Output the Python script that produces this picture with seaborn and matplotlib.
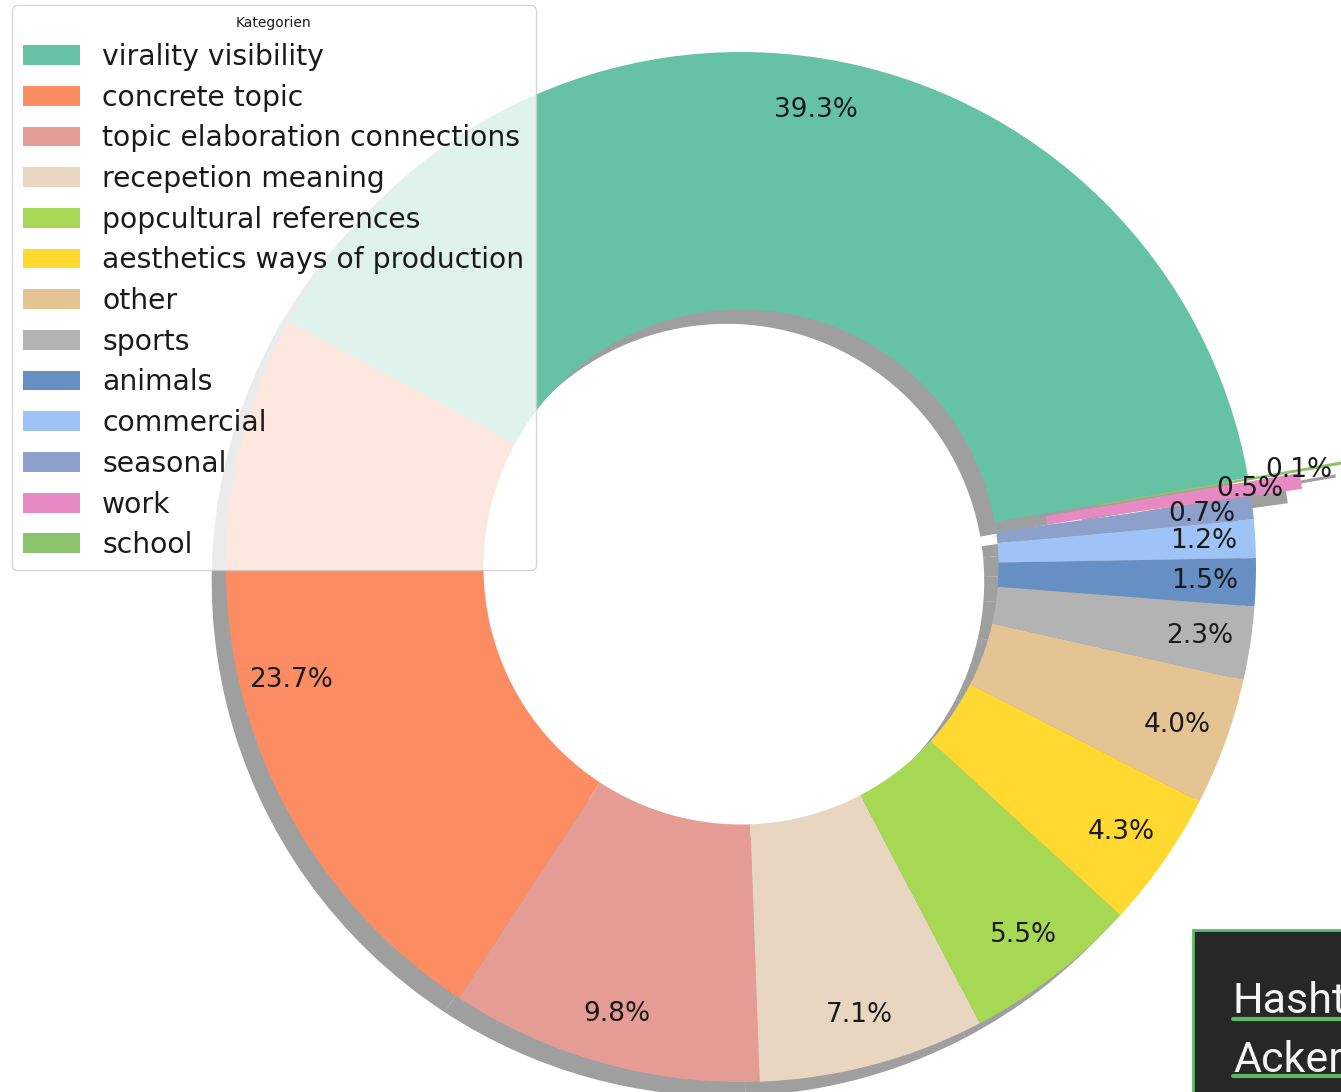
import matplotlib.pyplot as plt
import seaborn as sns
from matplotlib.patches import Rectangle
from matplotlib.lines import Line2D

# Kategorien und Anteile (in %)
categories = ['virality visibility', 'concrete topic', 'topic elaboration connections',
              'recepetion meaning', 'popcultural references', 'aesthetics ways of production',
              'other', 'sports', 'animals', 'commercial', 'seasonal', 'work', 'school']
shares = [39.3, 23.7, 9.8, 7.1, 5.5, 4.3, 4.0, 2.3, 1.5, 1.2, 0.7, 0.5, 0.1]
explode = [0, 0, 0, 0, 0, 0, 0, 0, 0, 0, 0, 0.1, 0.2]
colors = ['#66c2a5', '#fc8d62', '#e49c95', '#e8d6c1', '#a6d854', '#ffd92f', '#e5c494',
          '#b3b3b3', '#668fc4', '#9ec3f7', '#8da0cb', '#e78ac3', '#8cc46e']
palette = sns.color_palette(colors)

sns.set_style('white')
plt.rcParams['text.color'] = '#1a1a1a'

W, H = 1341, 1092
cx, cy, R = 741, 567, 515  # pie centre / radius in pixels

fig = plt.figure(figsize=(W / 100, H / 100), dpi=100)
ax = fig.add_axes([0, 0, 1, 1])

wedges, texts, autotexts = ax.pie(
    shares, colors=palette, explode=explode, startangle=10,
    autopct='%1.1f%%', pctdistance=0.9,
    shadow={'facecolor': '#959595', 'edgecolor': 'none', 'alpha': 0.9},
    wedgeprops=dict(width=0.5, linewidth=0),
    textprops=dict(fontsize=19, color='#1a1a1a'))

ax.set_aspect('equal')
ax.set_xlim(-cx / R, (W - cx) / R)
ax.set_ylim(-(H - cy) / R, cy / R)
ax.axis('off')

leg = ax.legend(wedges, categories, title='Kategorien', loc='upper left',
                bbox_to_anchor=(12 / W, 1 - 5 / H), borderaxespad=0,
                fontsize=20.3, title_fontsize=10, labelspacing=0.45)

# overlay box bottom right (page element in the screenshot)
fig.add_artist(Rectangle((1193 / W, -0.01), 0.2, (H - 930) / H + 0.01,
                         transform=fig.transFigure, facecolor='#272727',
                         edgecolor='#5dbb6a', linewidth=2, zorder=5))
for word, base, uline in [('Hashtags', 1013, 1019), ('Ackermann', 1072, 1076)]:
    fig.text(1233 / W, 1 - base / H, word, color='#f5f5f5', fontsize=31,
             family='Roboto', va='baseline', ha='left', zorder=6)
    fig.add_artist(Line2D([1233 / W, 1.01], [1 - uline / H] * 2, transform=fig.transFigure,
                          color='#5cb85c', linewidth=3, zorder=6))

fig.savefig('out.png', dpi=100)
